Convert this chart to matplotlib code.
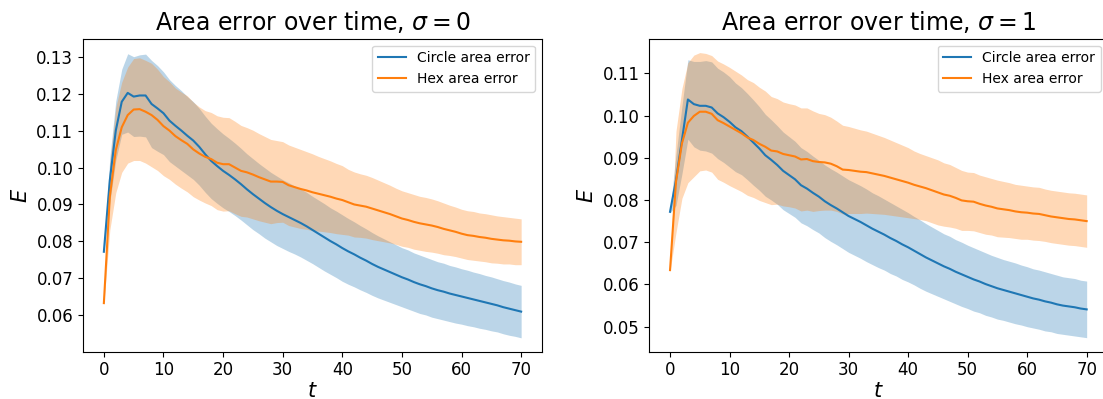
import numpy as np
import matplotlib
matplotlib.use("Agg")
import matplotlib.pyplot as plt

t = np.arange(0, 71)

# sigma = 0
circle_mean_s0 = [
    0.0772, 0.0966, 0.1100, 0.1178, 0.1202, 0.1192, 0.1195, 0.1195, 0.1172, 0.1160,
    0.1147, 0.1127, 0.1113, 0.1100, 0.1086, 0.1073, 0.1056, 0.1036, 0.1018, 0.1004,
    0.0991, 0.0980, 0.0968, 0.0955, 0.0941, 0.0928, 0.0916, 0.0904, 0.0893, 0.0883,
    0.0874, 0.0866, 0.0858, 0.0850, 0.0841, 0.0831, 0.0821, 0.0811, 0.0801, 0.0792,
    0.0782, 0.0773, 0.0765, 0.0756, 0.0748, 0.0739, 0.0731, 0.0724, 0.0717, 0.0710,
    0.0703, 0.0697, 0.0690, 0.0684, 0.0679, 0.0673, 0.0668, 0.0664, 0.0659, 0.0655,
    0.0651, 0.0647, 0.0643, 0.0639, 0.0635, 0.0631, 0.0627, 0.0622, 0.0618, 0.0614,
    0.0610]
circle_std_s0 = [
    0.0003, 0.0060, 0.0080, 0.0088, 0.0106, 0.0108, 0.0110, 0.0112, 0.0118, 0.0116,
    0.0112, 0.0111, 0.0109, 0.0108, 0.0106, 0.0105, 0.0104, 0.0103, 0.0102, 0.0101,
    0.0100, 0.0099, 0.0098, 0.0097, 0.0096, 0.0096, 0.0095, 0.0095, 0.0094, 0.0094,
    0.0093, 0.0093, 0.0092, 0.0092, 0.0092, 0.0091, 0.0091, 0.0091, 0.0090, 0.0090,
    0.0090, 0.0089, 0.0088, 0.0087, 0.0086, 0.0085, 0.0084, 0.0083, 0.0082, 0.0081,
    0.0080, 0.0080, 0.0079, 0.0079, 0.0078, 0.0078, 0.0077, 0.0077, 0.0076, 0.0076,
    0.0075, 0.0075, 0.0074, 0.0074, 0.0073, 0.0073, 0.0072, 0.0072, 0.0072, 0.0071,
    0.0071]
hex_mean_s0 = [
    0.0633, 0.0921, 0.1047, 0.1109, 0.1142, 0.1157, 0.1158, 0.1151, 0.1142, 0.1129,
    0.1112, 0.1100, 0.1085, 0.1074, 0.1064, 0.1049, 0.1038, 0.1029, 0.1023, 0.1013,
    0.1009, 0.1009, 0.1000, 0.0991, 0.0987, 0.0981, 0.0974, 0.0968, 0.0962, 0.0962,
    0.0961, 0.0952, 0.0947, 0.0942, 0.0938, 0.0933, 0.0929, 0.0925, 0.0921, 0.0916,
    0.0912, 0.0906, 0.0900, 0.0897, 0.0894, 0.0889, 0.0884, 0.0879, 0.0874, 0.0868,
    0.0862, 0.0858, 0.0853, 0.0849, 0.0846, 0.0843, 0.0839, 0.0834, 0.0830, 0.0826,
    0.0821, 0.0817, 0.0815, 0.0812, 0.0810, 0.0807, 0.0805, 0.0803, 0.0802, 0.0800,
    0.0799]
hex_std_s0 = [
    0.0003, 0.0090, 0.0115, 0.0122, 0.0130, 0.0138, 0.0139, 0.0139, 0.0140, 0.0137,
    0.0134, 0.0132, 0.0130, 0.0130, 0.0130, 0.0128, 0.0126, 0.0125, 0.0126, 0.0127,
    0.0127, 0.0126, 0.0125, 0.0123, 0.0121, 0.0120, 0.0118, 0.0116, 0.0114, 0.0111,
    0.0109, 0.0109, 0.0108, 0.0107, 0.0105, 0.0104, 0.0101, 0.0099, 0.0097, 0.0095,
    0.0093, 0.0089, 0.0088, 0.0086, 0.0085, 0.0084, 0.0082, 0.0080, 0.0078, 0.0076,
    0.0075, 0.0074, 0.0074, 0.0073, 0.0073, 0.0072, 0.0071, 0.0070, 0.0068, 0.0067,
    0.0066, 0.0066, 0.0066, 0.0065, 0.0065, 0.0065, 0.0064, 0.0064, 0.0063, 0.0063,
    0.0062]

# sigma = 1
circle_mean_s1 = [
    0.0772, 0.0847, 0.0942, 0.1038, 0.1027, 0.1023, 0.1023, 0.1019, 0.1005, 0.0996,
    0.0985, 0.0972, 0.0963, 0.0950, 0.0936, 0.0922, 0.0906, 0.0895, 0.0883, 0.0869,
    0.0859, 0.0849, 0.0835, 0.0827, 0.0817, 0.0808, 0.0797, 0.0788, 0.0780, 0.0771,
    0.0762, 0.0755, 0.0748, 0.0740, 0.0732, 0.0725, 0.0718, 0.0710, 0.0703, 0.0695,
    0.0688, 0.0680, 0.0672, 0.0664, 0.0657, 0.0650, 0.0643, 0.0637, 0.0630, 0.0624,
    0.0618, 0.0612, 0.0607, 0.0601, 0.0596, 0.0591, 0.0587, 0.0583, 0.0579, 0.0575,
    0.0571, 0.0567, 0.0564, 0.0560, 0.0557, 0.0553, 0.0550, 0.0548, 0.0546, 0.0543,
    0.0541]
circle_std_s1 = [
    0.0003, 0.0060, 0.0080, 0.0094, 0.0101, 0.0105, 0.0107, 0.0108, 0.0107, 0.0107,
    0.0107, 0.0105, 0.0103, 0.0102, 0.0101, 0.0099, 0.0097, 0.0095, 0.0093, 0.0092,
    0.0091, 0.0090, 0.0089, 0.0088, 0.0087, 0.0086, 0.0086, 0.0086, 0.0086, 0.0086,
    0.0086, 0.0086, 0.0086, 0.0086, 0.0085, 0.0085, 0.0084, 0.0084, 0.0083, 0.0083,
    0.0082, 0.0081, 0.0081, 0.0080, 0.0079, 0.0078, 0.0077, 0.0077, 0.0076, 0.0076,
    0.0075, 0.0075, 0.0074, 0.0074, 0.0073, 0.0073, 0.0072, 0.0072, 0.0072, 0.0071,
    0.0071, 0.0070, 0.0070, 0.0070, 0.0069, 0.0069, 0.0068, 0.0068, 0.0068, 0.0067,
    0.0067]
hex_mean_s1 = [
    0.0634, 0.0843, 0.0934, 0.0983, 0.0999, 0.1009, 0.1009, 0.1004, 0.0989, 0.0982,
    0.0974, 0.0966, 0.0958, 0.0948, 0.0942, 0.0933, 0.0926, 0.0917, 0.0915, 0.0909,
    0.0906, 0.0903, 0.0896, 0.0897, 0.0892, 0.0890, 0.0889, 0.0886, 0.0880, 0.0872,
    0.0871, 0.0869, 0.0867, 0.0866, 0.0863, 0.0860, 0.0857, 0.0853, 0.0849, 0.0845,
    0.0841, 0.0836, 0.0832, 0.0828, 0.0823, 0.0818, 0.0813, 0.0810, 0.0805, 0.0799,
    0.0797, 0.0796, 0.0791, 0.0787, 0.0784, 0.0780, 0.0778, 0.0776, 0.0773, 0.0771,
    0.0770, 0.0768, 0.0767, 0.0764, 0.0761, 0.0759, 0.0757, 0.0755, 0.0754, 0.0752,
    0.0750]
hex_std_s1 = [
    0.0003, 0.0120, 0.0130, 0.0142, 0.0144, 0.0140, 0.0138, 0.0138, 0.0140, 0.0140,
    0.0140, 0.0139, 0.0138, 0.0137, 0.0136, 0.0134, 0.0132, 0.0128, 0.0125, 0.0123,
    0.0122, 0.0122, 0.0122, 0.0121, 0.0119, 0.0115, 0.0113, 0.0110, 0.0107, 0.0105,
    0.0103, 0.0101, 0.0099, 0.0097, 0.0095, 0.0093, 0.0091, 0.0089, 0.0087, 0.0085,
    0.0083, 0.0080, 0.0078, 0.0077, 0.0077, 0.0077, 0.0075, 0.0074, 0.0072, 0.0071,
    0.0069, 0.0069, 0.0068, 0.0068, 0.0067, 0.0067, 0.0066, 0.0065, 0.0064, 0.0064,
    0.0063, 0.0063, 0.0063, 0.0062, 0.0062, 0.0062, 0.0062, 0.0062, 0.0062, 0.0062,
    0.0062]

titles = [r"Area error over time, $\sigma = 0$", r"Area error over time, $\sigma = 1$"]
labels = ["Circle area error", "Hex area error"]

fig = plt.figure(figsize=(11.03, 3.99), dpi=100)
ax0 = fig.add_axes([0.07525, 0.11855, 0.41614, 0.78446])
ax1 = fig.add_axes([0.58858, 0.11855, 0.41550, 0.78446])

panels = [
    (ax0, circle_mean_s0, circle_std_s0, hex_mean_s0, hex_std_s0, (0.05015, 0.13487)),
    (ax1, circle_mean_s1, circle_std_s1, hex_mean_s1, hex_std_s1, (0.04408, 0.11819)),
]

for (ax, cm, cs, hm, hs, ylim), title in zip(panels, titles):
    cm, cs, hm, hs = map(np.asarray, (cm, cs, hm, hs))
    ax.plot(t, cm, color="#1f77b4", label=labels[0])
    ax.fill_between(t, cm - cs, cm + cs, color="#1f77b4", alpha=0.3, linewidth=0)
    ax.plot(t, hm, color="#ff7f0e", label=labels[1])
    ax.fill_between(t, hm - hs, hm + hs, color="#ff7f0e", alpha=0.3, linewidth=0)
    ax.set_xlim(-3.5, 73.5)
    ax.set_ylim(*ylim)
    ax.set_xticks([0, 10, 20, 30, 40, 50, 60, 70])
    ax.tick_params(labelsize=12)
    ax.set_title(title, fontsize=17)
    ax.set_xlabel("$t$", fontsize=15, labelpad=1)
    ax.set_ylabel("$E$", fontsize=15)
    ax.legend(loc="upper right", fontsize=10)

fig.savefig("out.png", dpi=100)
